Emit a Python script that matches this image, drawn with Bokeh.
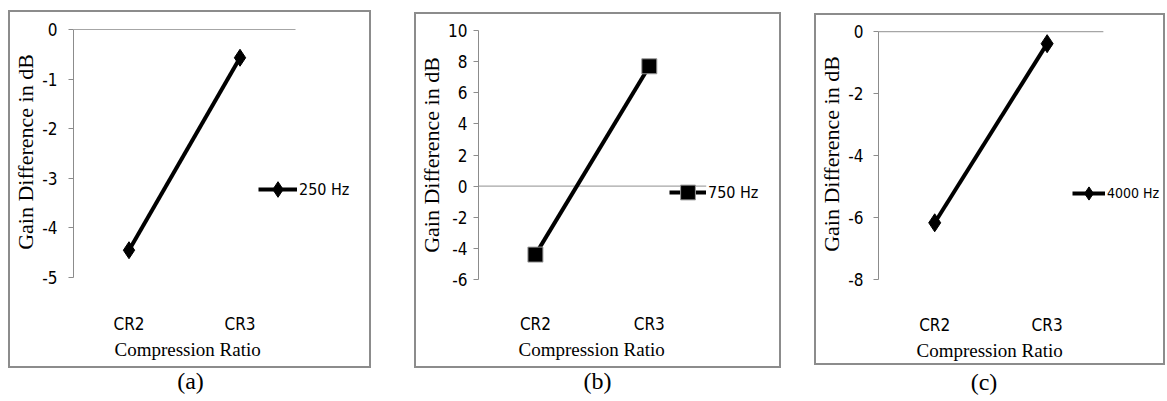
from bokeh.plotting import figure
from bokeh.models import Legend, LegendItem, Div, Spacer, Range1d, FixedTicker, Title
from bokeh.layouts import row, column
from bokeh.embed import file_html
from bokeh.resources import INLINE

categories = ["CR2", "CR3"]
gain_250 = [-4.45, -0.57]
gain_750 = [-4.4, 7.7]
gain_4000 = [-6.17, -0.39]
labels = ["250 Hz", "750 Hz", "4000 Hz"]
captions = ["(a)", "(b)", "(c)"]
y_ticks_a = [0, -1, -2, -3, -4, -5]
y_ticks_b = [-6, -4, -2, 0, 2, 4, 6, 8, 10]
y_ticks_c = [0, -2, -4, -6, -8]

SERIF = "Liberation Serif, Times New Roman, serif"
NARROW = "Liberation Sans Narrow, DejaVu Sans Condensed, Arial Narrow, sans-serif"
GRAY = "#8c8c8c"
BW = 2  # frame border width (css)


def panel(vals, label, marker, msize, ticks, ytop_pad, W, H, lb, tb, bb,
          plot_w, ylab_std, xlab_std, title_off, title_std, legloc, glyph_w, leg_fs):
    n = len(categories)
    xpos = [i + 0.5 for i in range(n)]
    rb = 2
    frame_w = W - lb - rb
    x_end = n * frame_w / plot_w
    ylo, yhi = min(ticks), max(ticks)
    p = figure(x_range=Range1d(0, x_end), y_range=Range1d(ylo, yhi + ytop_pad),
               width=W, height=H, output_backend="svg", toolbar_location=None,
               min_border_left=lb - BW, min_border_right=rb + BW,
               min_border_top=tb - BW, min_border_bottom=bb + BW)
    p.styles = {"border": f"{BW}px solid #8c8c8c", "box-sizing": "border-box"}
    p.outline_line_color = None
    p.xgrid.grid_line_color = None
    p.ygrid.grid_line_color = None

    # category axis line at zero
    p.segment(x0=[0], y0=[0], x1=[n], y1=[0], line_color="#a6a6a6", line_width=1.2)

    r_line = p.line(xpos, vals, line_color="black", line_width=4)
    r_mark = p.scatter(xpos, vals, marker=marker, size=msize,
                       fill_color="black",
                       line_color="#9a9a9a" if marker == "square" else "black",
                       line_width=1)

    ya = p.yaxis[0]
    ya.ticker = FixedTicker(ticks=ticks)
    ya.major_label_overrides = {t: str(t) for t in ticks}
    ya.bounds = (ylo, yhi)
    ya.axis_line_color = GRAY
    ya.major_tick_line_color = GRAY
    ya.major_tick_out = 5
    ya.major_tick_in = 0
    ya.minor_tick_line_color = None
    ya.major_label_standoff = ylab_std
    ya.major_label_text_font = NARROW
    ya.major_label_text_font_size = "17px"
    ya.major_label_text_color = "black"
    ya.axis_label = "Gain Difference in dB"
    ya.axis_label_text_font = SERIF
    ya.axis_label_text_font_size = "22px"
    ya.axis_label_text_font_style = "normal"
    ya.axis_label_text_color = "black"
    ya.axis_label_standoff = 1

    xa = p.xaxis[0]
    xa.ticker = FixedTicker(ticks=xpos)
    xa.major_label_overrides = {x: c for x, c in zip(xpos, categories)}
    xa.axis_line_color = None
    xa.major_tick_line_color = None
    xa.minor_tick_line_color = None
    xa.major_tick_out = 0
    xa.major_label_standoff = xlab_std
    xa.major_label_text_font = NARROW
    xa.major_label_text_font_size = "17px"
    xa.major_label_text_color = "black"

    t = Title(text="Compression Ratio", align="left", offset=title_off,
              standoff=title_std, text_font=SERIF, text_font_size="19px",
              text_font_style="normal", text_color="black")
    p.add_layout(t, "below")

    leg = Legend(items=[LegendItem(label=label, renderers=[r_line, r_mark])],
                 location=legloc, border_line_color=None, background_fill_alpha=0,
                 padding=0, margin=0, glyph_width=glyph_w, glyph_height=40,
                 label_height=40, label_standoff=2,
                 label_text_font=NARROW, label_text_font_size=leg_fs,
                 label_text_color="black")
    p.add_layout(leg, "center")
    return p


pa = panel(gain_250, labels[0], "diamond", 17, y_ticks_a, 0.06,
           363, 358, 61, 16, 91, 225, 11, 36, 41, 0, (185, 68), 39, "16px")
pb = panel(gain_750, labels[1], "square", 15, y_ticks_b, 0.0,
           367, 356, 61, 18, 89, 230, 6, 34, 40, 0, (191, 67), 37, "16px")
pc = panel(gain_4000, labels[2], "diamond", 18, y_ticks_c, 0.1,
           351, 352, 60, 15, 86, 228, 10, 35, 38, 0, (194, 66), 33, "14px")


def cap(text, w, top):
    return Div(text=text, width=w, height=24,
               styles={"font-family": SERIF, "font-size": "24px", "line-height": "24px",
                       "text-align": "center", "width": f"{w}px", "margin-top": f"{top}px",
                       "color": "black"})


layout = row(
    Spacer(width=8),
    column(Spacer(height=10), pa, cap(captions[0], 355, 1), spacing=0),
    Spacer(width=41),
    column(Spacer(height=12), pb, cap(captions[1], 357, 1), spacing=0),
    Spacer(width=33),
    column(Spacer(height=13), pc, cap(captions[2], 330, 5), spacing=0),
    spacing=0,
)

open("out.html", "w").write(file_html(layout, INLINE))
